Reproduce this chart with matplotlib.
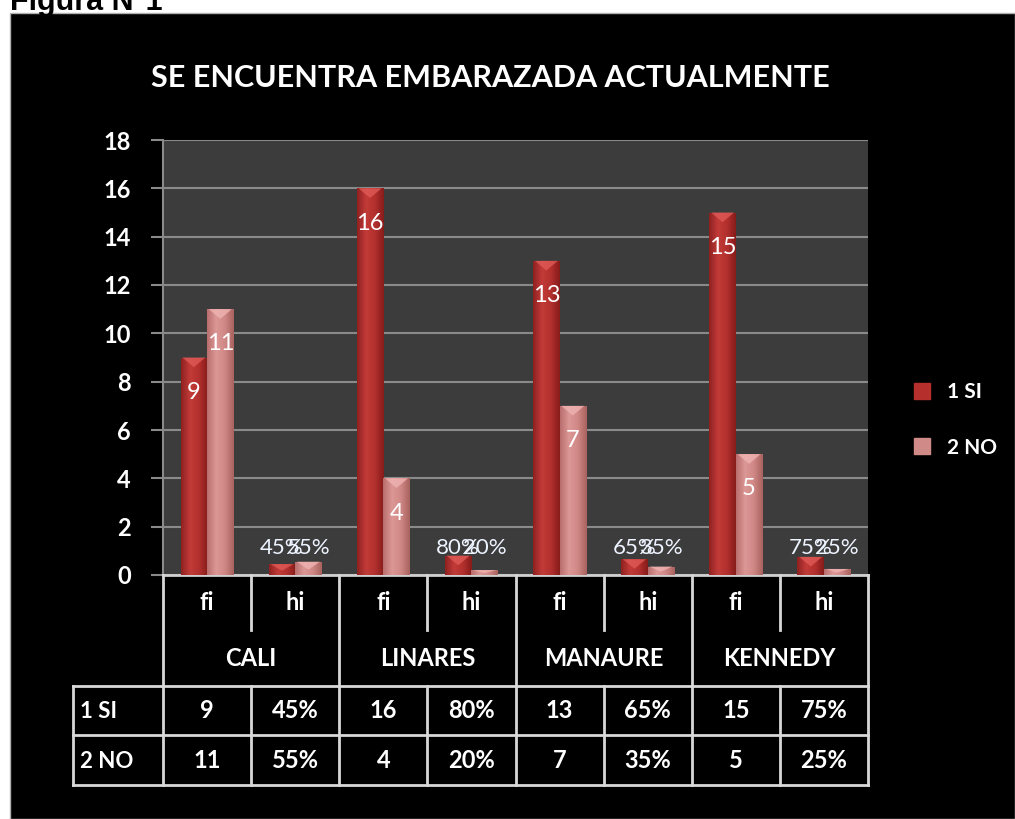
import matplotlib.pyplot as plt
import numpy as np
from matplotlib.colors import LinearSegmentedColormap
from matplotlib.patches import Rectangle, Polygon
from matplotlib.lines import Line2D

plt.rcParams['font.family'] = ['Lato', 'DejaVu Sans']

# data
cities = ['CALI', 'LINARES', 'MANAURE', 'KENNEDY']
sub_cols = ['fi', 'hi']
si_fi = [9, 16, 13, 15]
no_fi = [11, 4, 7, 5]
si_hi = [0.45, 0.80, 0.65, 0.75]
no_hi = [0.55, 0.20, 0.35, 0.25]
series_names = ['1 SI', '2 NO']
title = 'SE ENCUENTRA EMBARAZADA ACTUALMENTE'

W, H = 1015, 819
fig = plt.figure(figsize=(W / 100, H / 100), dpi=100, facecolor='white')

def fx(px):
    return px / W

def fy(py):
    return 1 - py / H

# black chart frame + clipped caption
fig.patches.append(Rectangle((fx(10), 0), 1 - fx(10), fy(13), transform=fig.transFigure,
                             facecolor='black', edgecolor='#b0b0b0', lw=1, zorder=-5))
fig.text(fx(10), fy(10), 'Figura N°1', family='Liberation Sans', weight='bold',
         fontsize=22, color='black', va='baseline', ha='left', zorder=-4)

# interleave values per column: CALI fi, CALI hi, LINARES fi, ...
si_vals, no_vals = [], []
for i in range(len(cities)):
    si_vals += [si_fi[i], si_hi[i]]
    no_vals += [no_fi[i], no_hi[i]]
xs = np.arange(len(si_vals))

ax = fig.add_axes([fx(163), fy(575), fx(868) - fx(163), fy(140) - fy(575)])
ax.set_facecolor('#3c3c3c')
bw = 0.3
red_cmap = LinearSegmentedColormap.from_list('r', ['#8e2220', '#c23b38', '#b3302e', '#861c1a'])
pink_cmap = LinearSegmentedColormap.from_list('p', ['#b86e6c', '#dc9896', '#d08886', '#aa625f'])
bars_si = ax.bar(xs - bw / 2, si_vals, bw, color='#b52f2d', zorder=3)
bars_no = ax.bar(xs + bw / 2, no_vals, bw, color='#d08a88', zorder=3)

grad = np.linspace(0, 1, 64).reshape(1, -1)
for bars, cmap, cap in [(bars_si, red_cmap, '#e05a57'), (bars_no, pink_cmap, '#f0b4b2')]:
    for r in bars:
        x0, w, h = r.get_x(), r.get_width(), r.get_height()
        im = ax.imshow(grad, extent=[x0, x0 + w, 0, h], cmap=cmap, aspect='auto', zorder=3.5)
        im.set_clip_path(r)
        ch = min(0.4, h * 0.6)
        ax.add_patch(Polygon([[x0 + 0.02, h], [x0 + w - 0.02, h], [x0 + w / 2, h - ch]],
                             closed=True, facecolor=cap, edgecolor='none', alpha=0.8, zorder=4))

ax.set_xlim(-0.5, len(xs) - 0.5)
ax.set_ylim(0, 18)
ax.set_yticks(range(0, 19, 2))
ax.yaxis.grid(True, color='#8a8a8a', lw=1.5, zorder=1)
ax.set_axisbelow(True)
ax.set_xticks([])
ax.tick_params(axis='y', colors='#8a8a8a', length=9, width=1.5, labelcolor='white',
               labelsize=17, pad=14)
for lab in ax.get_yticklabels():
    lab.set_fontweight('bold')
for s in ['top', 'right']:
    ax.spines[s].set_visible(False)
ax.spines['left'].set_color('#8a8a8a')
ax.spines['left'].set_linewidth(1.5)
ax.spines['bottom'].set_color('#d0d0d0')
ax.spines['bottom'].set_linewidth(2)

# data labels: counts inside the bar top, shares on one line above the small bars
for i, x in enumerate(xs):
    if i % 2 == 0:
        for xb, v in [(x - bw / 2, si_vals[i]), (x + bw / 2, no_vals[i])]:
            ax.annotate(str(v), (xb, v), xytext=(0, -25), textcoords='offset points',
                        ha='center', va='center', color='white', fontsize=17, zorder=6)
    else:
        for xb, v in [(x - bw / 2, si_vals[i]), (x + bw / 2, no_vals[i])]:
            ax.text(xb, 1.12, f'{round(v * 100)}%', ha='center', va='center',
                    color='#eef4ff', fontsize=16, zorder=6)

# data table below the plot, y in pixel rows from the top of the image
lab_left = -0.5 - 90 / 88.1
tax = fig.add_axes([fx(73), fy(785), fx(868) - fx(73), fy(575) - fy(785)])
tax.set_xlim(lab_left, len(xs) - 0.5)
tax.set_ylim(785, 575)
tax.axis('off')
lc = '#d8d8d8'
lw = 2
for k in range(len(xs) + 1):
    xb = k - 0.5
    top_end = 686 if k % 2 == 0 else 630
    tax.plot([xb, xb], [575, top_end], color=lc, lw=lw, clip_on=False)
    tax.plot([xb, xb], [686, 785], color=lc, lw=lw, clip_on=False)
tax.plot([lab_left, lab_left], [686, 785], color=lc, lw=lw, clip_on=False)
for yy in [686, 735, 785]:
    tax.plot([lab_left, len(xs) - 0.5], [yy, yy], color=lc, lw=lw, clip_on=False)

tk = dict(color='white', fontsize=17, weight='bold', ha='center', va='center')
for i, x in enumerate(xs):
    tax.text(x, 603, sub_cols[i % 2], **tk)
for c, city in enumerate(cities):
    tax.text(2 * c + 0.5, 658, city, **tk)
rows = [(series_names[0], si_vals, 711), (series_names[1], no_vals, 761)]
for name, vals, yy in rows:
    tax.text(lab_left + 0.08, yy, name, color='white', fontsize=16, weight='bold',
             ha='left', va='center')
    for i, x in enumerate(xs):
        txt = str(vals[i]) if i % 2 == 0 else f'{round(vals[i] * 100)}%'
        tax.text(x, yy, txt, **tk)

# title
fig.text(fx(490), fy(78), title, color='white', fontsize=22, weight='bold',
         ha='center', va='center')

# legend
handles = [Line2D([], [], marker='s', ls='none', markersize=11, color='#b52f2d'),
           Line2D([], [], marker='s', ls='none', markersize=11, color='#d08a88')]
leg = fig.legend(handles, series_names, loc='center left', bbox_to_anchor=(fx(882), fy(420)),
                 frameon=False, labelspacing=1.7, handletextpad=0.2,
                 prop={'weight': 'bold', 'size': 15})
for t in leg.get_texts():
    t.set_color('white')

fig.savefig('out.png', dpi=100, facecolor=fig.get_facecolor())
